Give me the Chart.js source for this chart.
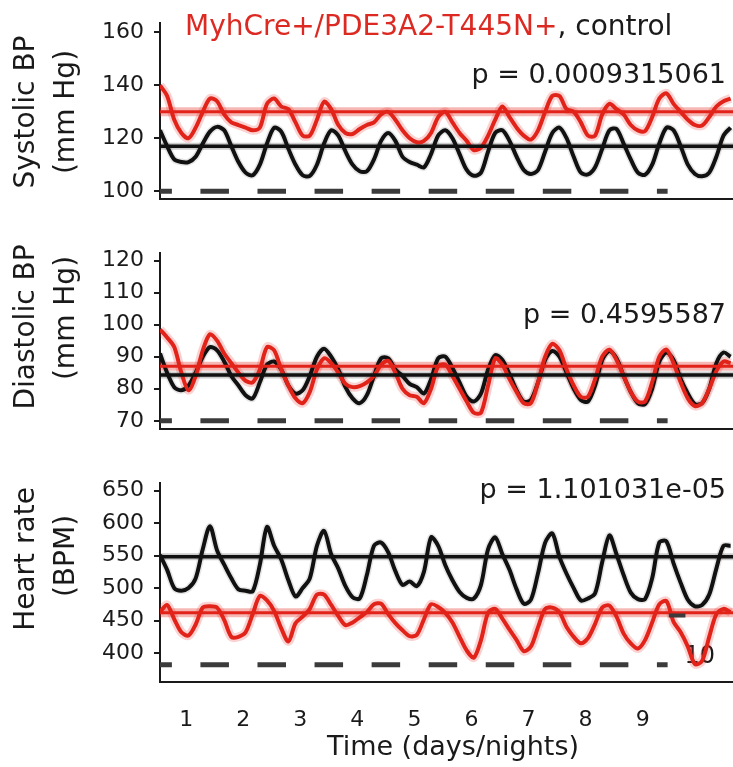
<!DOCTYPE html>
<html>
<head>
<meta charset="utf-8">
<script src="https://cdn.jsdelivr.net/npm/chart.js@4.4.1/dist/chart.umd.min.js"></script>
<style>
  html, body { margin: 0; padding: 0; background: #fff; }
  #wrap { position: relative; width: 733px; height: 767px; overflow: hidden; }
  #wrap canvas { position: absolute; left: 0; }
</style>
</head>
<body>
<div id="wrap">
  <canvas id="sbpChart" width="733" height="222" style="top:0px"></canvas>
  <canvas id="dbpChart" width="733" height="222" style="top:230px"></canvas>
  <canvas id="hrChart" width="733" height="307" style="top:460px"></canvas>
</div>
<script>
// =========================
// telemetry, 3 h bins (hours from start of recording)
// =========================
const hours = [
  0, 3, 6, 9, 12, 15, 18, 21, 24, 27,
  30, 33, 36, 39, 42, 45, 48, 51, 54, 57,
  60, 63, 66, 69, 72, 75, 78, 81, 84, 87,
  90, 93, 96, 99, 102, 105, 108, 111, 114, 117,
  120, 123, 126, 129, 132, 135, 138, 141, 144, 147,
  150, 153, 156, 159, 162, 165, 168, 171, 174, 177,
  180, 183, 186, 189, 192, 195, 198, 201, 204, 207,
  210, 213, 216, 219, 222, 225, 228, 231, 234, 237,
  240
];

// systolic BP (mm Hg)
const sbpControl = [
  123, 117, 112, 111, 111, 113, 118, 122.5, 124.3, 123,
  117, 111, 107, 106, 110, 118, 124, 122.5, 116, 110,
  106, 105.8, 110, 118, 123, 121, 115, 110, 107.5, 107.5,
  112, 119, 122, 119, 113, 111, 110, 109, 114, 121,
  123, 120, 114, 108, 105.8, 107, 115, 122, 123, 119,
  113, 108, 106.5, 108, 115, 122, 124, 120, 113, 107,
  106.3, 109, 116, 123, 123.5, 118, 112, 107, 106.2, 110,
  118, 124, 123, 117, 110, 106.5, 105.6, 107, 113, 121,
  124
];
const sbpMutant = [
  140, 136, 127, 122, 120, 124, 130, 135, 134, 129,
  126, 125, 124, 123, 124, 133, 135, 132, 131, 126,
  121, 121, 127, 133.8, 131, 125, 122, 121.6, 123.5, 125,
  126, 129, 130, 127, 123, 120, 118.5, 119, 122, 128,
  130, 126, 122, 119, 115.5, 116.5, 121, 127, 132, 128,
  124, 121, 119.5, 123, 130, 136, 136, 131, 130, 126,
  121, 121, 129, 133, 131, 129, 125, 123, 122.7, 128,
  135, 137, 133, 130, 127, 125, 124.8, 128, 132, 134,
  135
];

// diastolic BP (mm Hg)
const dbpControl = [
  91, 85, 80.5, 79.5, 81, 85, 90, 93, 92, 88.5,
  84, 81, 78, 77, 82, 87.5, 88.5, 86, 81, 78.5,
  79.5, 84, 90, 92.5, 90, 86, 80.5, 77, 75.5, 78,
  84, 89.5, 89.5, 86, 84, 81.5, 80.5, 78.5, 83, 89.5,
  90, 86.5, 82, 77.5, 76, 78.5, 86, 90.5, 89, 84.5,
  79.5, 76, 76.5, 82, 89, 91.8, 90, 85, 80, 76.5,
  76, 81, 89, 91.8, 89.5, 84, 79, 75.5, 75.2, 80,
  88.5, 91.3, 89, 83, 78.5, 75.2, 75.5, 80, 88, 91.3,
  90
];
const dbpMutant = [
  98.5, 96, 93, 85, 79.5, 84, 92, 97, 95, 91,
  88, 85, 82.5, 82, 86, 93, 92, 86, 81, 77,
  75.5, 79, 86, 89.5, 88, 85, 81.5, 80.5, 80.8, 82,
  84, 87.5, 88.7, 85, 80, 78, 77.5, 75.5, 80, 87,
  87.5, 84, 80, 76, 72.5, 72.5, 81, 89.5, 87.5, 83,
  79, 75.5, 75.5, 82, 90, 94, 92, 86, 81, 77.5,
  77.5, 83, 90, 92.2, 89, 84, 79, 76, 76, 82,
  90, 92.2, 88, 82, 77, 74.6, 75.5, 80, 85.5, 88.5,
  88
];

// heart rate (BPM)
const hrControl = [
  551, 528, 500, 496, 500, 515, 560, 595, 558, 536,
  515, 498, 496, 495, 536, 594, 565, 544, 512, 487,
  500, 515, 565, 588, 552, 530, 503, 486, 484, 520,
  565, 570, 555, 526, 505, 510, 503, 525, 578, 565,
  535, 512, 494, 485, 484, 505, 560, 578, 552, 528,
  498, 476, 482, 523, 570, 584, 548, 522, 500, 481,
  484, 492, 540, 581, 552, 520, 493, 483, 483, 515,
  570, 572, 538, 508, 482, 472, 474, 490, 530, 565,
  565
];
const hrMutant = [
  463, 474, 452, 432, 427, 444, 470, 472, 470, 451,
  425, 425, 432, 460, 488, 481, 465, 438, 418, 446,
  456, 468, 490, 490, 474, 457, 443, 447, 455, 463,
  475, 476, 460, 446, 435, 426, 428, 452, 475, 471,
  462, 447, 425, 404, 393, 420, 462, 468, 453, 436,
  420, 403, 410, 440, 468, 470, 463, 440, 425, 415,
  423, 445, 470, 473, 456, 430, 415, 407, 420, 447,
  475, 480, 448, 432, 410, 383, 388, 425, 460, 468,
  463
];

// group means: [mutant, control]
const sbpMeans = [130, 117];
const dbpMeans = [87, 84.3];
const hrMeans = [462, 548];

// dark periods (h)
const nightStart = [0, 17, 41, 65, 89, 113, 137, 161, 185, 209];
const nightEnd = [5, 29, 53, 77, 101, 125, 149, 173, 197, 213.5];

// x ticks = middle of each light period
const dayTickHours = [11, 35, 59, 83, 107, 131, 155, 179, 203];
const dayTickLabels = ["1", "2", "3", "4", "5", "6", "7", "8", "9"];
// last day label sits inside the HR panel
const dayTenLabel = { hour: 227, value: 394, text: "10" };
const hrExtraDash = { hours: [214, 221], value: 458 };

const sbpTicks = [100, 120, 140, 160];
const dbpTicks = [70, 80, 90, 100, 110, 120];
const hrTicks = [400, 450, 500, 550, 600, 650];

const pValues = ["p = 0.0009315061", "p = 0.4595587", "p = 1.101031e-05"];

// =========================
// styles
// =========================
const FONT = '"DejaVu Sans", sans-serif';
const RED = "#e2231a";
const RED_TEXT = "#dc2a22";
const BLACK = "#111111";
const AXIS = "#1a1a1a";
const DASH = "#3b3b3b";
const X_MAX = 241;

Chart.defaults.font.family = FONT;
Chart.defaults.color = AXIS;

function toPoints(values) {
  return hours.map((h, i) => ({ x: h, y: values[i] }));
}

function flat(v) {
  return [{ x: 0, y: v }, { x: X_MAX, y: v }];
}

function nightPoints(level) {
  const pts = [];
  nightStart.forEach((s, i) => {
    pts.push({ x: s, y: level }, { x: nightEnd[i], y: level }, { x: nightEnd[i] + 1, y: null });
  });
  return pts;
}

function ds(data, color, width, order, extra) {
  return Object.assign({
    data,
    borderColor: color,
    borderWidth: width,
    order,
    pointRadius: 0,
    pointHoverRadius: 0,
    fill: false,
    tension: 0.3,
    borderJoinStyle: "round",
  }, extra || {});
}

// texts drawn on top of each panel
function textPlugin(p) {
  return {
    id: "panelText",
    beforeDatasetsDraw(chart) {
      if (!p.dayTen) return;
      const { ctx, scales } = chart;
      ctx.save();
      ctx.font = "24px " + FONT;
      ctx.fillStyle = AXIS;
      ctx.textAlign = "center";
      ctx.textBaseline = "middle";
      ctx.fillText(p.dayTen.text,
        scales.x.getPixelForValue(p.dayTen.hour),
        scales.y.getPixelForValue(p.dayTen.value));
      ctx.restore();
    },
    afterDatasetsDraw(chart) {
      const ctx = chart.ctx;
      ctx.save();
      ctx.fillStyle = AXIS;

      // y title, two rotated lines
      ctx.font = "28px " + FONT;
      ctx.textAlign = "center";
      ctx.textBaseline = "middle";
      p.yTitle.forEach((line, i) => {
        ctx.save();
        ctx.translate(p.yTitleX[i], p.yTitleY[i]);
        ctx.rotate(-Math.PI / 2);
        ctx.fillText(line, 0, 0);
        ctx.restore();
      });

      // p value
      ctx.font = "27px " + FONT;
      ctx.textAlign = "right";
      ctx.textBaseline = "alphabetic";
      ctx.fillText(p.pText, 726, p.pBaseline);

      // group key
      if (p.header) {
        ctx.font = "28px " + FONT;
        ctx.textAlign = "left";
        ctx.fillStyle = RED_TEXT;
        ctx.fillText("MyhCre+/PDE3A2-T445N+", 185, 35);
        const w = ctx.measureText("MyhCre+/PDE3A2-T445N+").width;
        ctx.fillStyle = AXIS;
        ctx.fillText(", control", 185 + w, 35);
      }

      // x title
      if (p.xTitle) {
        ctx.font = "27px " + FONT;
        ctx.textAlign = "center";
        ctx.fillText("Time (days/nights)", 453, 295);
      }
      ctx.restore();
    },
  };
}

function makePanel(id, p) {
  const datasets = [
    ds(flat(p.means[0]), RED, 3, 1),
    ds(flat(p.means[1]), BLACK, 3.5, 2),
    ds(toPoints(p.mutant), RED, 4, 3),
    ds(toPoints(p.control), BLACK, 4, 4),
    ds(flat(p.means[0]), "rgba(226,35,26,0.32)", 9, 5),
    ds(flat(p.means[1]), "rgba(0,0,0,0.2)", 7, 6),
    ds(toPoints(p.mutant), "rgba(232,50,45,0.22)", 9, 7),
    ds(toPoints(p.control), "rgba(0,0,0,0.1)", 7, 8),
    ds(nightPoints(p.nightLevel), DASH, 5, 9, { tension: 0, spanGaps: false }),
  ];
  if (p.extraDash) {
    datasets.push(ds(p.extraDash.hours.map((h) => ({ x: h, y: p.extraDash.value })), DASH, 4, 0, { tension: 0 }));
  }

  return new Chart(document.getElementById(id), {
    type: "line",
    data: { datasets },
    plugins: [textPlugin(p)],
    options: {
      responsive: false,
      animation: false,
      events: [],
      layout: { padding: { top: p.padTop, right: 0, bottom: 0, left: 0 } },
      plugins: { legend: { display: false }, tooltip: { enabled: false } },
      scales: {
        x: {
          type: "linear",
          min: 0,
          max: X_MAX,
          grid: { display: false },
          border: { display: true, color: AXIS, width: 2 },
          afterBuildTicks: (s) => { s.ticks = dayTickHours.map((v) => ({ value: v })); },
          ticks: {
            display: p.showX,
            autoSkip: false,
            maxRotation: 0,
            padding: 17,
            font: { size: 22 },
            color: AXIS,
            callback: (v, i) => dayTickLabels[i],
          },
          afterFit: (s) => { s.height = p.xHeight; },
        },
        y: {
          min: p.yMin,
          max: p.yMax,
          afterBuildTicks: (s) => { s.ticks = p.ticks.map((v) => ({ value: v })); },
          grid: { drawOnChartArea: false, drawTicks: true, tickLength: 6, color: AXIS, lineWidth: 2 },
          border: { display: true, color: AXIS, width: 2 },
          ticks: { font: { size: 22 }, color: AXIS, padding: 10 },
          afterFit: (s) => { s.width = 160; },
        },
      },
    },
  });
}

// =========================
// panels
// =========================
makePanel("sbpChart", {
  control: sbpControl, mutant: sbpMutant, means: sbpMeans,
  ticks: sbpTicks, yMin: 97.1, yMax: 163.5, nightLevel: 100,
  padTop: 12, xHeight: 2, showX: false,
  yTitle: ["Systolic BP", "(mm Hg)"], yTitleX: [27, 67], yTitleY: [112, 112],
  pText: pValues[0], pBaseline: 83, header: true,
});

makePanel("dbpChart", {
  control: dbpControl, mutant: dbpMutant, means: dbpMeans,
  ticks: dbpTicks, yMin: 67.5, yMax: 122.3, nightLevel: 70,
  padTop: 13, xHeight: 2, showX: false,
  yTitle: ["Diastolic BP", "(mm Hg)"], yTitleX: [27, 67], yTitleY: [97, 88],
  pText: pValues[1], pBaseline: 93,
});

makePanel("hrChart", {
  control: hrControl, mutant: hrMutant, means: hrMeans,
  ticks: hrTicks, yMin: 356, yMax: 661.3, nightLevel: 382,
  padTop: 13, xHeight: 85.3, showX: true, xTitle: true,
  yTitle: ["Heart rate", "(BPM)"], yTitleX: [27, 67], yTitleY: [99, 96],
  pText: pValues[2], pBaseline: 38,
  dayTen: dayTenLabel, extraDash: hrExtraDash,
});
</script>
</body>
</html>
